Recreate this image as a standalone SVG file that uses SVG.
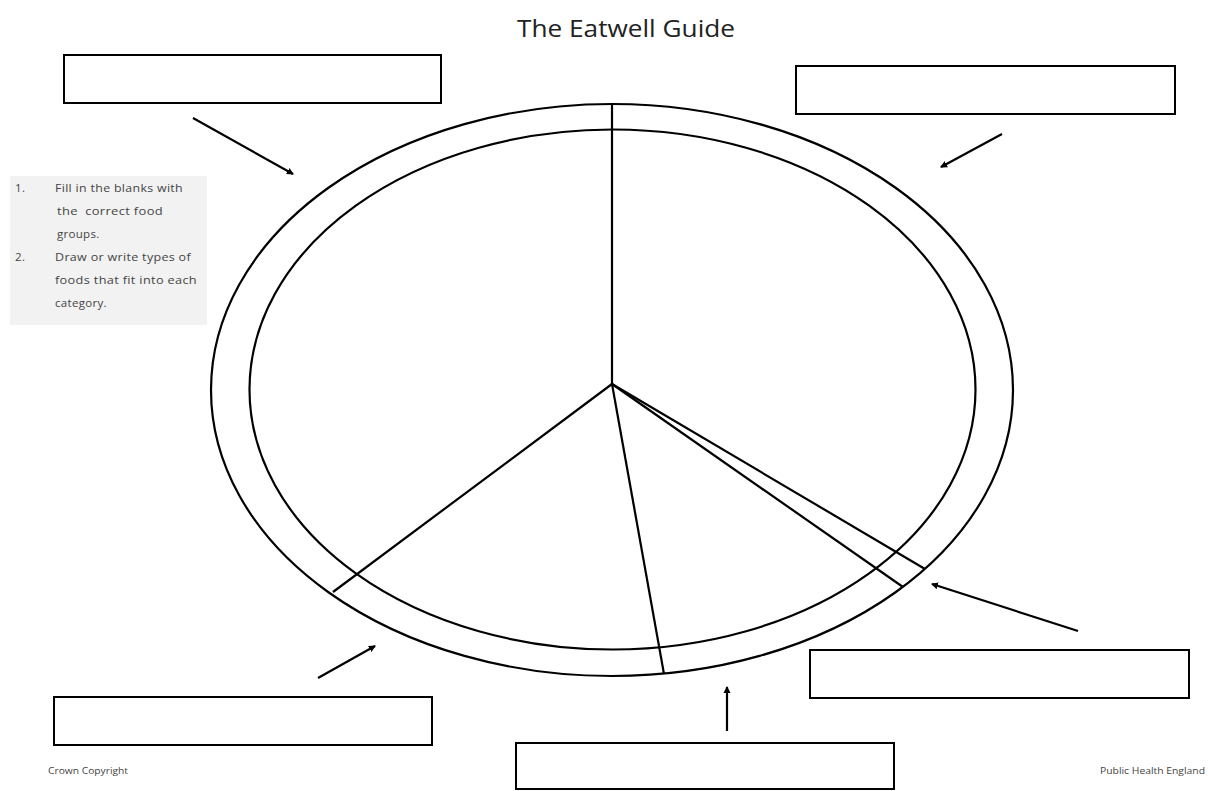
<svg xmlns="http://www.w3.org/2000/svg" width="1208" height="791" viewBox="0 0 1208 791">
<style>
.ln{fill:none;stroke:#000;stroke-width:2.2}
.box{fill:#fff;stroke:#000;stroke-width:2}
.t{font-family:"Open Sans","Liberation Sans",sans-serif;fill:#222}
.note{font-family:"Open Sans","Liberation Sans",sans-serif;font-size:11.5px;fill:#444;letter-spacing:0.3px}
.foot{font-family:"Open Sans","Liberation Sans",sans-serif;font-size:9.5px;fill:#444}
</style>
<defs>
<marker id="ah" markerWidth="8" markerHeight="8" refX="6" refY="4" orient="auto" markerUnits="userSpaceOnUse">
<path d="M0,0.5 L7,4 L0,7.5 Z" fill="#000"/>
</marker>
</defs>
<rect width="1208" height="791" fill="#fff"/>
<text class="t" x="626" y="37" font-size="24" text-anchor="middle" textLength="218" lengthAdjust="spacingAndGlyphs">The Eatwell Guide</text>
<g id="plate">
<ellipse class="ln" cx="612" cy="390" rx="401" ry="286"/>
<ellipse class="ln" cx="612.5" cy="389.5" rx="363" ry="260"/>
<line class="ln" x1="612" y1="104" x2="612" y2="384"/>
<line class="ln" x1="612" y1="384" x2="333" y2="592"/>
<line class="ln" x1="612" y1="384" x2="664" y2="674"/>
<line class="ln" x1="612" y1="384" x2="925" y2="569"/>
<line class="ln" x1="612" y1="384" x2="903" y2="587"/>
</g>
<g id="instructions">
<rect x="10" y="176" width="197" height="149" fill="#f2f2f2"/>
<text class="note" x="15" y="192">1.</text>
<text class="note" x="55" y="192" textLength="128" lengthAdjust="spacingAndGlyphs">Fill in the blanks with</text>
<text class="note" x="57" y="215" xml:space="preserve" textLength="106" lengthAdjust="spacingAndGlyphs">the  correct food</text>
<text class="note" x="57" y="238">groups.</text>
<text class="note" x="15" y="261">2.</text>
<text class="note" x="55" y="261" textLength="136" lengthAdjust="spacingAndGlyphs">Draw or write types of</text>
<text class="note" x="55" y="284" textLength="142" lengthAdjust="spacingAndGlyphs">foods that fit into each</text>
<text class="note" x="55" y="307">category.</text>
</g>
<g id="box-top-left"><rect class="box" x="64" y="55" width="377" height="48"/></g>
<g id="box-top-right"><rect class="box" x="796" y="66" width="379" height="48"/></g>
<g id="box-bottom-left"><rect class="box" x="54" y="697" width="378" height="48"/></g>
<g id="box-bottom-center"><rect class="box" x="516" y="743" width="378" height="46"/></g>
<g id="box-bottom-right"><rect class="box" x="810" y="650" width="379" height="48"/></g>
<g id="connectors" stroke="#000" stroke-width="2.2" marker-end="url(#ah)">
<line x1="193" y1="118" x2="293" y2="174"/>
<line x1="1002" y1="134" x2="941" y2="167"/>
<line x1="318" y1="678" x2="375" y2="646"/>
<line x1="727" y1="731" x2="727" y2="687"/>
<line x1="1078" y1="631" x2="932" y2="584"/>
</g>
<text class="foot" x="48" y="774" textLength="80" lengthAdjust="spacingAndGlyphs">Crown Copyright</text>
<text class="foot" x="1205" y="774" text-anchor="end" textLength="105" lengthAdjust="spacingAndGlyphs">Public Health England</text>
</svg>
